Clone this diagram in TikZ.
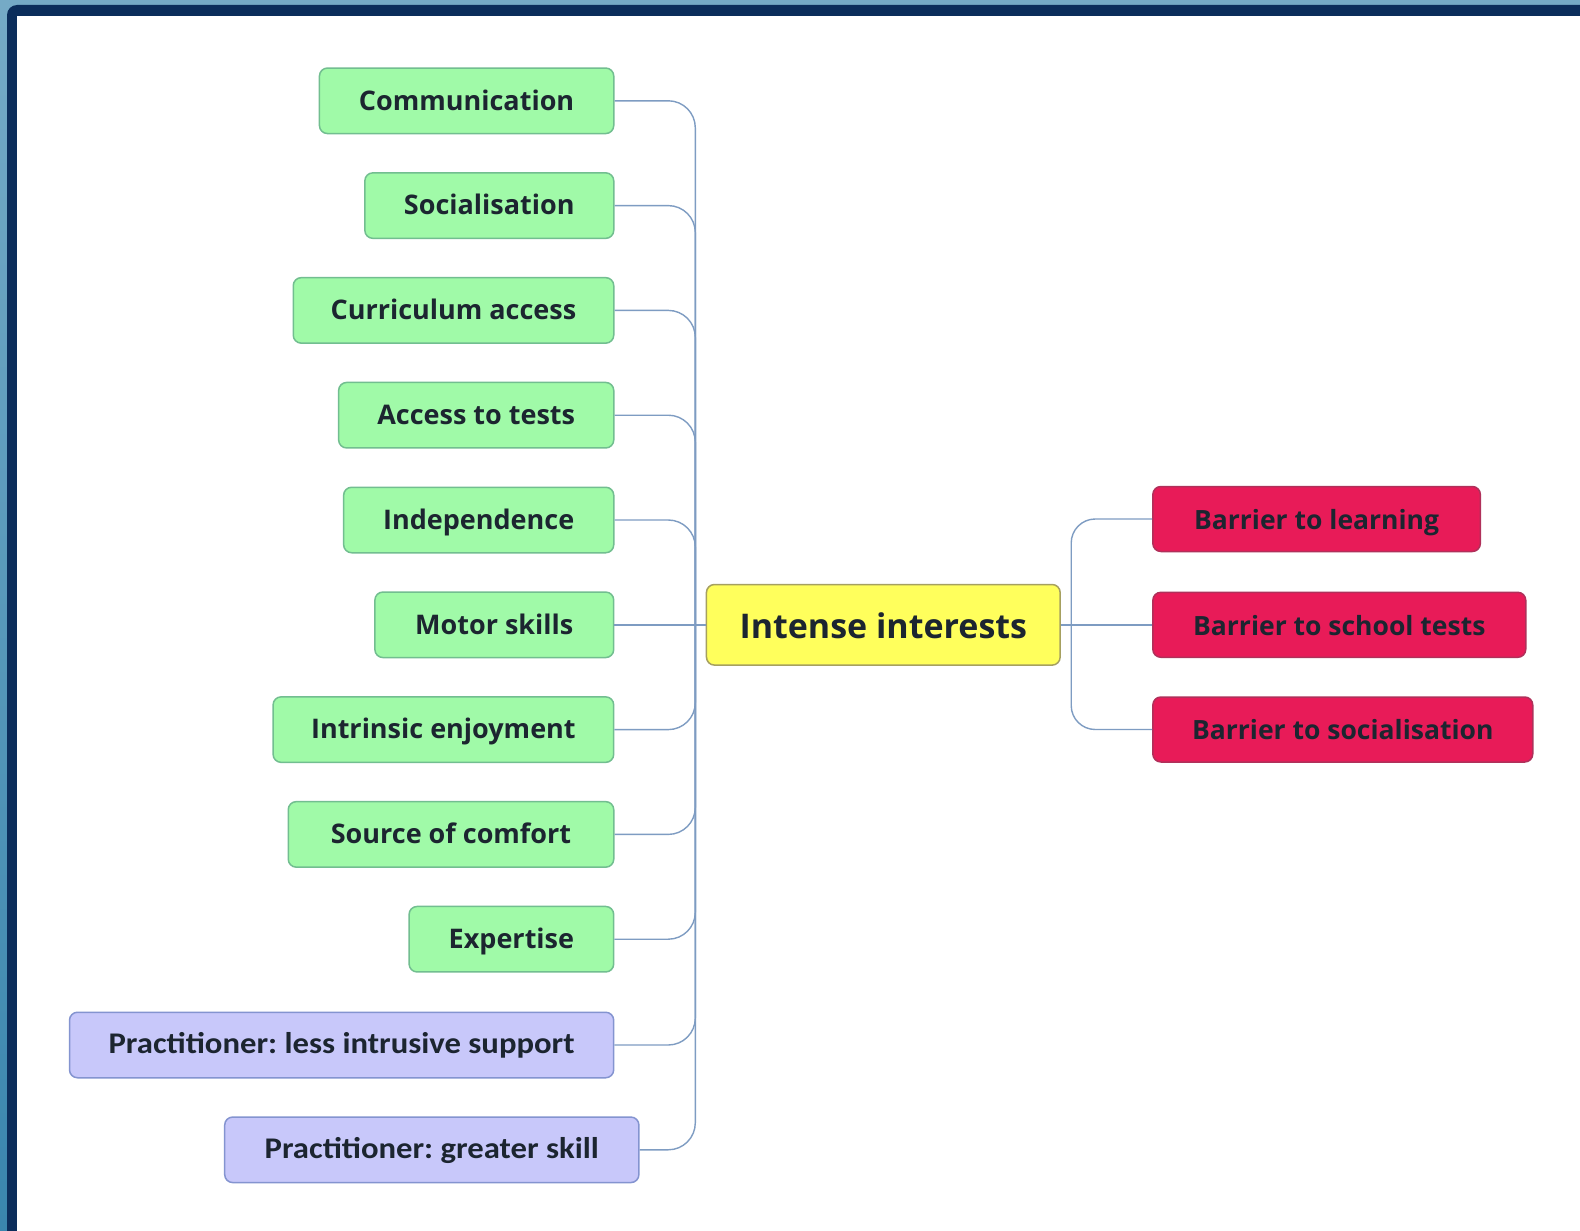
\documentclass[tikz,border=0pt]{standalone}
\usepackage{fontspec}
\setmainfont{Open Sans}
\newfontfamily\calfont[FakeStretch=1.09]{Carlito}
\frenchspacing
\definecolor{teal1}{HTML}{3A86AE}
\definecolor{navy}{HTML}{0B2D5B}
\definecolor{gfill}{HTML}{A0FAA8}
\definecolor{gdraw}{HTML}{72BE90}
\definecolor{yfill}{HTML}{FFFF5C}
\definecolor{ydraw}{HTML}{A6A060}
\definecolor{rfill}{HTML}{E81B58}
\definecolor{rdraw}{HTML}{B0305A}
\definecolor{pfill}{HTML}{C8C8FA}
\definecolor{pdraw}{HTML}{8494D0}
\definecolor{txt}{HTML}{1C2530}
\definecolor{conncol}{HTML}{7E9CC2}
\tikzset{
  box/.style={rounded corners=8, line width=1.5, inner sep=0pt, minimum height=65.5, text=txt,
    font=\fontsize{27}{32}\selectfont\bfseries, text height=25, text depth=6.5},
  gbox/.style={box, fill=gfill, draw=gdraw},
  rbox/.style={box, fill=rfill, draw=rdraw, minimum height=65, font=\fontsize{26.5}{32}\selectfont\bfseries, text height=27, text depth=6.5},
  pbox/.style={box, fill=pfill, draw=pdraw, font=\calfont\fontsize{30}{36}\selectfont\bfseries, text height=24, text depth=7.3},
  ybox/.style={box, fill=yfill, draw=ydraw, minimum height=80.6, font=\fontsize{34}{40}\selectfont\bfseries, text height=34, text depth=7},
  conn/.style={draw=conncol, line width=1.4},
}
\begin{document}
\begin{tikzpicture}[x=1pt,y=-1pt]
\useasboundingbox (0,0) rectangle (1580,1231);
% frame
\fill[top color=teal1!70!white, bottom color=teal1] (0,0) rectangle (1580,1231);
\fill[navy, rounded corners=10] (7,5) rectangle (1600,1260);
\fill[white] (17,16) rectangle (1580,1231);
% nodes
\node[gbox, minimum width=294.3] (n1) at (466.6,100.8) {Communication};
\node[gbox, minimum width=248.9] (n2) at (489.3,205.6) {Socialisation};
\node[gbox, minimum width=320.5] (n3) at (453.5,310.4) {Curriculum access};
\node[gbox, minimum width=275.1] (n4) at (476.2,415.2) {Access to tests};
\node[gbox, minimum width=270.1] (n5) at (478.7,520.0) {Independence};
\node[gbox, minimum width=238.8] (n6) at (494.3,624.8) {Motor skills};
\node[gbox, minimum width=340.6] (n7) at (443.4,729.6) {Intrinsic enjoyment};
\node[gbox, minimum width=325.5] (n8) at (451.0,834.4) {Source of comfort};
\node[gbox, minimum width=204.6] (n9) at (511.4,939.2) {Expertise};
\node[pbox, minimum width=544.2] (p1) at (341.6,1045.0) {Practitioner: less intrusive support};
\node[pbox, minimum width=414.2] (p2) at (431.8,1149.8) {Practitioner: greater skill};
\node[ybox, minimum width=353.7] (c) at (883.3,624.8) {Intense interests};
\node[rbox, minimum width=327.5] (r1) at (1316.6,519.0) {Barrier to learning};
\node[rbox, minimum width=372.9] (r2) at (1339.3,624.8) {Barrier to school tests};
\node[rbox, minimum width=379.9] (r3) at (1342.8,729.5) {Barrier to socialisation};
% connectors
\coordinate (tl) at (695.3,624.8);
\coordinate (tr) at (1071.2,624.8);
\foreach \n in {n1,n2,n3,n4,n5,n7,n8,n9,p1,p2}{
  \draw[conn, rounded corners=27] (\n.east) -| (tl);
}
\draw[conn] (n6.east) -- (tl);
\draw[conn] (tl) -- (c.west);
\draw[conn] (c.east) -- (tr);
\draw[conn, rounded corners=24] (tr) |- (r1.west);
\draw[conn] (tr) -- (r2.west);
\draw[conn, rounded corners=24] (tr) |- (r3.west);
\end{tikzpicture}
\end{document}
